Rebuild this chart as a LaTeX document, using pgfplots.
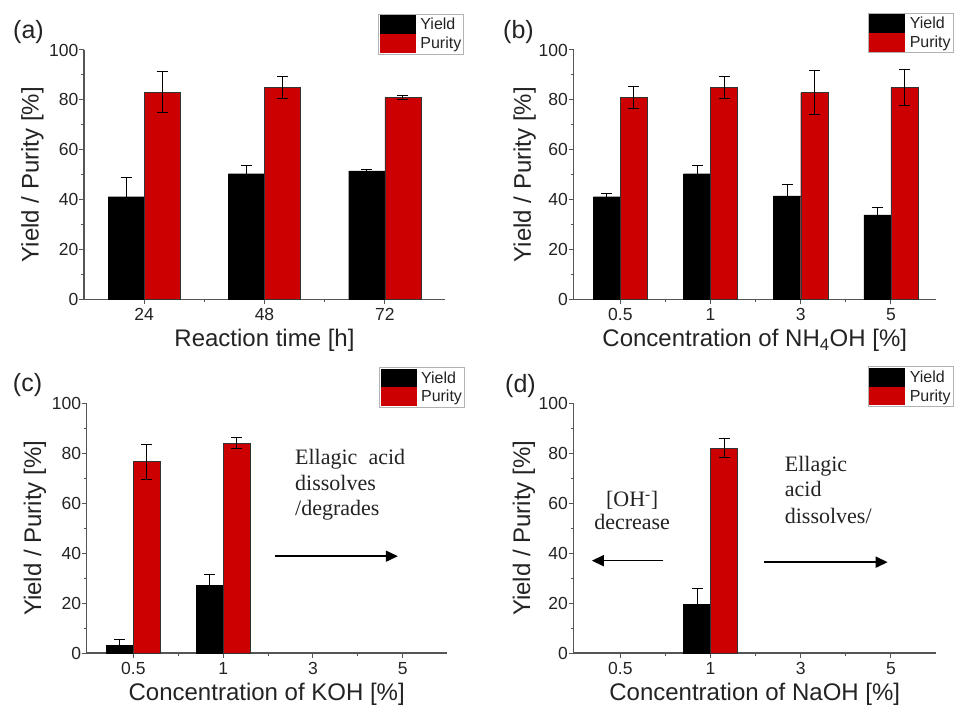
\documentclass[border=0pt]{standalone}
\usepackage{fontspec}
\setmainfont{Liberation Sans}
\newfontfamily\tnr{Liberation Serif}
\usepackage{pgfplots}
\usepackage{pgfplotstable}
\pgfplotsset{compat=1.18}
\usetikzlibrary{arrows.meta}
\definecolor{myred}{RGB}{204,0,0}
\definecolor{axgray}{RGB}{85,85,85}
\definecolor{txt}{RGB}{35,35,35}
\newcommand\tickfont{\fontsize{17.5bp}{21bp}\selectfont}

% x = category index, y = value, e = error (Yield: y/ye, Purity: p/pe)
\pgfplotstableread{
x y ye p pe
0 41.2 7.6 83.1 8.2
1 50.4 3.5 85.0 4.3
2 51.6 0.5 81.0 0.7
}\tA
\pgfplotstableread{
x y ye p pe
0 41.2 1.3 81.0 4.4
1 50.4 3.5 85.0 4.3
2 41.5 4.7 82.9 8.8
3 33.9 3.0 85.0 7.3
}\tB
\pgfplotstableread{
x y ye p pe
0 3.2 2.4 76.7 7.0
1 27.1 4.3 84.1 2.2
}\tC
\pgfplotstableread{
x y ye p pe
1 19.7 6.0 82.2 3.9
}\tD

\tikzset{
 ann/.style={font=\tnr\fontsize{22bp}{26bp}\selectfont, text=txt},
 arr/.style={-{Triangle[length=12bp,width=11bp]}, line width=1.5bp, black},
}
\pgfplotsset{
 panel/.style={
  scale only axis, axis lines*=left, enlargelimits=false,
  height=249.5bp,
  ymin=0, ymax=100, ytick={0,20,40,60,80,100},
  yticklabels={0,20,40,60,80,100}, minor ytick={10,30,50,70,90},
  tick align=outside, major tick length=5bp, minor tick length=3bp,
  axis line style={axgray, line width=1.2bp},
  every tick/.append style={axgray, line width=1bp},
  every tick label/.append style={font=\tickfont, text=txt},
  xticklabel style={font=\tickfont, text=txt, anchor=base, yshift=-16.5bp},
  yticklabel style={font=\tickfont, text=txt, anchor=east, inner sep=0pt, xshift=-0.5bp},
  label style={font=\fontsize{24bp}{28bp}\selectfont, text=txt},
  xlabel style={at={(axis description cs:0.5,-0.19)}, anchor=base},
  ybar, bar width=0.3,
  legend image code/.code={\fill[##1,draw=none] (0bp,-9.4bp) rectangle (36bp,9.4bp);},
  legend style={draw=gray!60, line width=1bp, fill=white, inner sep=1bp,
    font=\fontsize{16bp}{18bp}\selectfont, text=txt, row sep=0pt, column sep=3bp,
    nodes={inner sep=1.5bp}, anchor=north east},
  legend cell align=left,
 },
 yld/.style={fill=black, draw=black, line width=0.4bp, bar shift=-0.15,
   error bars/.cd, y dir=both, y explicit,
   error bar style={black, line width=1bp},
   error mark options={rotate=90, black, line width=1bp, mark size=5.5bp}},
 pur/.style={fill=myred, draw=black!80, line width=0.4bp, bar shift=0.15,
   error bars/.cd, y dir=both, y explicit,
   error bar style={black, line width=1bp},
   error mark options={rotate=90, black, line width=1bp, mark size=5.5bp}},
}

\begin{document}
\begin{tikzpicture}
\useasboundingbox (0bp,0bp) rectangle (954bp,706bp);

% (a)
\begin{axis}[panel, at={(84bp,406.5bp)}, anchor=south west, width=361bp,
  xmin=-0.5, xmax=2.5, xtick={0,1,2}, xticklabels={24,48,72},
  minor xtick={0.5,1.5},
  xlabel={Reaction time [h]}, ylabel={Yield / Purity [\%]},
  ylabel style={at={(axis description cs:-0.143,0.5)}, anchor=center},
  legend style={at={(axis description cs:1.0535,1.1443)}}]
\addplot[yld] table[x=x, y=y, y error=ye] {\tA};
\addplot[pur] table[x=x, y=p, y error=pe] {\tA};
\addlegendentry{Yield}
\addlegendentry{Purity}
\end{axis}

% (b)
\begin{axis}[panel, at={(573.5bp,406.5bp)}, anchor=south west, width=362.5bp,
  xmin=-0.52, xmax=3.5, xtick={0,1,2,3}, xticklabels={0.5,1,3,5},
  minor xtick={0.5,1.5,2.5},
  xlabel={Concentration of NH\textsubscript{4}OH [\%]}, ylabel={Yield / Purity [\%]},
  ylabel style={at={(axis description cs:-0.135,0.5)}, anchor=center},
  legend style={at={(axis description cs:1.0488,1.1495)}}]
\addplot[yld] table[x=x, y=y, y error=ye] {\tB};
\addplot[pur] table[x=x, y=p, y error=pe] {\tB};
\addlegendentry{Yield}
\addlegendentry{Purity}
\end{axis}

% (c)
\begin{axis}[panel, at={(86.7bp,53bp)}, anchor=south west, width=360bp,
  xmin=-0.52, xmax=3.49, xtick={0,1,2,3}, xticklabels={0.5,1,3,5},
  minor xtick={0.5,1.5,2.5},
  xlabel={Concentration of KOH [\%]}, ylabel={Yield / Purity [\%]},
  ylabel style={at={(axis description cs:-0.1436,0.5)}, anchor=center},
  legend style={at={(axis description cs:1.0508,1.146)}}]
\addplot[yld] table[x=x, y=y, y error=ye] {\tC};
\addplot[pur] table[x=x, y=p, y error=pe] {\tC};
\addlegendentry{Yield}
\addlegendentry{Purity}
\node[ann, anchor=base west] at (axis cs:1.763,75.5) {Ellagic\ \ acid};
\node[ann, anchor=base west] at (axis cs:1.763,65.1) {dissolves};
\node[ann, anchor=base west] at (axis cs:1.763,55.1) {/degrades};
\draw[arr] (axis cs:1.578,38.8) -- (axis cs:2.946,38.8);
\end{axis}

% (d)
\begin{axis}[panel, at={(573.5bp,53bp)}, anchor=south west, width=362.5bp,
  xmin=-0.52, xmax=3.5, xtick={0,1,2,3}, xticklabels={0.5,1,3,5},
  minor xtick={0.5,1.5,2.5},
  xlabel={Concentration of NaOH [\%]}, ylabel={Yield / Purity [\%]},
  ylabel style={at={(axis description cs:-0.1366,0.5)}, anchor=center},
  legend style={at={(axis description cs:1.0488,1.149)}}]
\addplot[yld] table[x=x, y=y, y error=ye] {\tD};
\addplot[pur] table[x=x, y=p, y error=pe] {\tD};
\addlegendentry{Yield}
\addlegendentry{Purity}
\node[ann, anchor=base] at (axis cs:0.13,58.6) {[OH\textsuperscript{-}]};
\node[ann, anchor=base] at (axis cs:0.13,49.5) {decrease};
\draw[arr] (axis cs:0.473,37.0) -- (axis cs:-0.317,37.0);
\node[ann, anchor=base west] at (axis cs:1.785,72.9) {Ellagic};
\node[ann, anchor=base west] at (axis cs:1.785,62.6) {acid};
\node[ann, anchor=base west] at (axis cs:1.785,52.1) {dissolves/};
\draw[arr] (axis cs:1.593,36.4) -- (axis cs:2.964,36.4);
\end{axis}

\node[font=\fontsize{25bp}{30bp}\selectfont, text=txt] at (28.5bp,673.5bp) {(a)};
\node[font=\fontsize{25bp}{30bp}\selectfont, text=txt] at (518.5bp,673.5bp) {(b)};
\node[font=\fontsize{25bp}{30bp}\selectfont, text=txt] at (27.5bp,321bp) {(c)};
\node[font=\fontsize{25bp}{30bp}\selectfont, text=txt] at (520.5bp,320bp) {(d)};
\end{tikzpicture}
\end{document}
